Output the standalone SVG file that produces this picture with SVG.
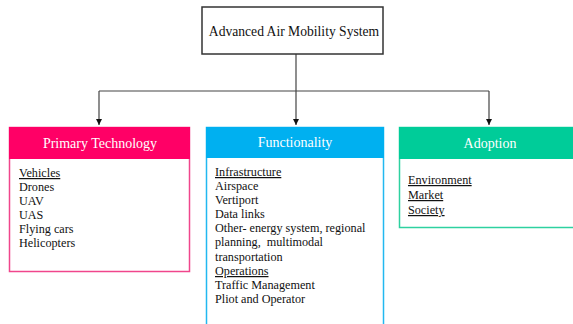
<svg xmlns="http://www.w3.org/2000/svg" width="573" height="324" viewBox="0 0 573 324">
  <style>
    .t { font-family: "Liberation Serif", "Times New Roman", serif; font-size: 12.2px; fill: #111; }
    .h { font-family: "Liberation Serif", "Times New Roman", serif; font-size: 14px; fill: #fff; text-anchor: middle; }
    .u { text-decoration: underline; }
    .conn { fill: none; stroke: #444; stroke-width: 1.2; }
  </style>
  <defs>
    <marker id="arr" viewBox="0 0 10 10" refX="10" refY="5" markerWidth="6" markerHeight="6" orient="auto" markerUnits="userSpaceOnUse">
      <path d="M0,0 L10,5 L0,10 z" fill="#111"/>
    </marker>
  </defs>
  <rect width="573" height="324" fill="#fff"/>

  <g id="connectors">
    <path class="conn" d="M296,54 V125" marker-end="url(#arr)"/>
    <path class="conn" d="M99,91 H489"/>
    <path class="conn" d="M99,91 V125" marker-end="url(#arr)"/>
    <path class="conn" d="M489,91 V125" marker-end="url(#arr)"/>
  </g>

  <g id="root">
    <rect x="202" y="7" width="181" height="47" fill="#fff" stroke="#333" stroke-width="1.5"/>
    <text x="294" y="36" class="t" style="font-size:13.6px" text-anchor="middle">Advanced Air Mobility System</text>
  </g>

  <g id="primary-technology">
    <rect x="9.5" y="127.5" width="180" height="144" fill="#fff" stroke="#F0468C" stroke-width="1.5"/>
    <rect x="9" y="127" width="181" height="32" fill="#FF0066"/>
    <text x="100" y="148" class="h">Primary Technology</text>
    <text class="t" x="19" y="177"><tspan class="u">Vehicles</tspan></text>
    <text class="t" x="19" y="191">Drones</text>
    <text class="t" x="19" y="205">UAV</text>
    <text class="t" x="19" y="219">UAS</text>
    <text class="t" x="19" y="233">Flying cars</text>
    <text class="t" x="19" y="247">Helicopters</text>
  </g>

  <g id="functionality">
    <rect x="206.5" y="127.5" width="177" height="200" fill="#fff" stroke="#22B8F0" stroke-width="1.5"/>
    <rect x="206" y="127" width="178" height="31" fill="#00B0F0"/>
    <text x="295" y="147" class="h">Functionality</text>
    <text class="t" x="215" y="176"><tspan class="u">Infrastructure</tspan></text>
    <text class="t" x="215" y="190">Airspace</text>
    <text class="t" x="215" y="204">Vertiport</text>
    <text class="t" x="215" y="218">Data links</text>
    <text class="t" x="215" y="232">Other- energy system, regional</text>
    <text class="t" x="215" y="246" xml:space="preserve">planning,  multimodal</text>
    <text class="t" x="215" y="261">transportation</text>
    <text class="t" x="215" y="275"><tspan class="u">Operations</tspan></text>
    <text class="t" x="215" y="289">Traffic Management</text>
    <text class="t" x="215" y="303">Pliot and Operator</text>
  </g>

  <g id="adoption">
    <rect x="399.5" y="127.5" width="180" height="100" fill="#fff" stroke="#2ED1A0" stroke-width="1.5"/>
    <rect x="399" y="127" width="180" height="32" fill="#00CC99"/>
    <text x="490" y="148" class="h">Adoption</text>
    <text class="t u" x="408" y="184">Environment</text>
    <text class="t u" x="408" y="199">Market</text>
    <text class="t u" x="408" y="214">Society</text>
  </g>
</svg>
